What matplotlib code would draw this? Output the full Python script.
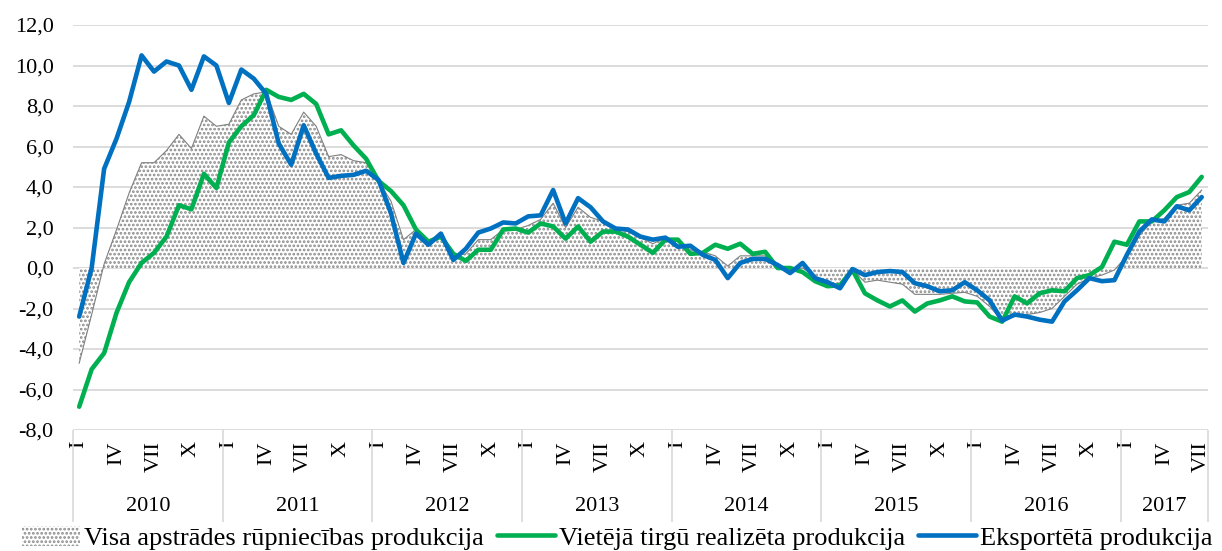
import numpy as np
import matplotlib
matplotlib.use("Agg")
import matplotlib.pyplot as plt
import matplotlib.transforms as mtransforms

plt.rcParams["font.family"] = ["Liberation Serif", "DejaVu Serif"]
plt.rcParams["hatch.linewidth"] = 1.3

# dati: 2010. gada janvāris - 2017. gada jūlijs
years = [2010, 2011, 2012, 2013, 2014, 2015, 2016, 2017]
months_in_year = [12, 12, 12, 12, 12, 12, 12, 7]
month_labels = ["I", "", "", "IV", "", "", "VII", "", "", "X", "", ""]

visa = [
    -4.7, -2.3, 0.2, 1.9, 3.7, 5.2, 5.2, 5.8, 6.6, 5.9, 7.5, 7.0,
    7.1, 8.3, 8.6, 8.7, 7.0, 6.6, 7.7, 7.0, 5.5, 5.6, 5.3, 5.2,
    4.3, 3.3, 1.4, 1.9, 1.2, 1.5, 0.6, 0.7, 1.4, 1.4, 1.9, 1.9,
    2.1, 2.4, 3.2, 2.0, 3.0, 2.5, 2.3, 1.9, 1.8, 1.5, 1.2, 1.5,
    1.3, 0.9, 0.8, 0.6, 0.1, 0.6, 0.6, 0.6, 0.2, -0.1, 0.0, -0.4,
    -0.8, -0.9, -0.1, -0.7, -0.6, -0.7, -0.8, -1.3, -1.3, -1.3, -1.25, -1.2,
    -1.4, -1.9, -2.6, -2.4, -2.3, -2.2, -2.0, -1.4, -0.8, -0.5, -0.35, -0.1,
    0.6, 1.6, 2.3, 2.45, 3.1, 3.2, 3.85,
]
vietejais = [
    -6.85, -5.0, -4.2, -2.2, -0.7, 0.25, 0.75, 1.55, 3.1, 2.9, 4.65, 3.95,
    6.2, 7.0, 7.55, 8.8, 8.45, 8.3, 8.6, 8.1, 6.6, 6.8, 6.05, 5.4,
    4.3, 3.8, 3.1, 1.9, 1.3, 1.55, 0.7, 0.35, 0.9, 0.9, 1.9, 1.95,
    1.75, 2.2, 2.05, 1.45, 2.05, 1.3, 1.8, 1.8, 1.55, 1.15, 0.75, 1.4,
    1.4, 0.7, 0.75, 1.15, 0.95, 1.2, 0.7, 0.8, 0.0, 0.0, -0.2, -0.65,
    -0.9, -0.85, -0.1, -1.25, -1.6, -1.9, -1.6, -2.15, -1.75, -1.6, -1.4, -1.65,
    -1.7, -2.4, -2.65, -1.4, -1.75, -1.25, -1.1, -1.15, -0.5, -0.35, 0.05, 1.3,
    1.15, 2.3, 2.3, 2.85, 3.5, 3.75, 4.5,
]
eksports = [
    -2.4, 0.0, 4.9, 6.4, 8.2, 10.5, 9.7, 10.2, 10.0, 8.8, 10.45, 10.0,
    8.15, 9.8, 9.35, 8.6, 6.15, 5.1, 7.05, 5.65, 4.45, 4.55, 4.6, 4.8,
    4.35, 2.7, 0.25, 1.7, 1.15, 1.7, 0.4, 0.95, 1.75, 1.95, 2.25, 2.2,
    2.55, 2.6, 3.85, 2.2, 3.45, 3.0, 2.3, 1.95, 1.9, 1.55, 1.4, 1.5,
    1.05, 1.1, 0.65, 0.4, -0.5, 0.25, 0.45, 0.45, 0.15, -0.25, 0.25, -0.5,
    -0.7, -1.0, -0.05, -0.35, -0.2, -0.15, -0.2, -0.75, -0.9, -1.15, -1.1, -0.7,
    -1.1, -1.6, -2.6, -2.3, -2.4, -2.55, -2.65, -1.65, -1.1, -0.5, -0.65, -0.6,
    0.65, 1.8, 2.4, 2.3, 3.05, 2.85, 3.5,
]

x = np.arange(len(visa))

fig = plt.figure(figsize=(12.22, 5.51), dpi=100)
ax = fig.add_axes([0.0597, 0.2196, 0.9288, 0.735])

# laukums ar punktotu rakstu
ax.fill_between(x, visa, 0, facecolor="white", edgecolor="#8a8a8a",
                hatch="....", linewidth=0, zorder=2,
                label="Visa apstrādes rūpniecības produkcija")
ax.plot(x, visa, color="#808080", linewidth=0.8, zorder=3)
ax.plot(x, vietejais, color="#00B050", linewidth=3.3, zorder=4,
        solid_joinstyle="round", solid_capstyle="round",
        label="Vietējā tirgū realizēta produkcija")
ax.plot(x, eksports, color="#0070C0", linewidth=3.3, zorder=5,
        solid_joinstyle="round", solid_capstyle="round",
        label="Eksportētā produkcija")

ax.set_xlim(-0.5, len(visa) - 0.5)
ax.set_ylim(-8, 12)
ax.set_yticks(np.arange(-8, 13, 2))
ax.set_yticklabels([f"{v:.1f}".replace(".", ",") for v in np.arange(-8, 13, 2)])
ax.yaxis.grid(True, color="#d9d9d9", linewidth=1.3, zorder=0)
ax.set_axisbelow(True)
for s in ax.spines.values():
    s.set_visible(False)

# mēnešu un gadu iedaļas
ticks, labels, starts = [], [], []
pos = 0
for n in months_in_year:
    starts.append(pos)
    for m in range(n):
        if month_labels[m]:
            ticks.append(pos + m)
            labels.append(month_labels[m])
    pos += n
ax.set_xticks(ticks)
ax.set_xticklabels(labels, rotation=90)
ax.set_xticks([s - 0.5 for s in starts] + [pos - 0.5], minor=True)
ax.tick_params(axis="x", which="major", length=0, pad=8, labelsize=16)
ax.tick_params(axis="x", which="minor", length=66, width=1.2, color="#d9d9d9")
ax.tick_params(axis="y", length=0, pad=14, labelsize=16)

trans = mtransforms.blended_transform_factory(ax.transData, ax.transAxes)
for y, s, n in zip(years, starts, months_in_year):
    ax.text(s + (n - 1) / 2, -0.19, str(y), transform=trans,
            ha="center", va="center", fontsize=16)

fig.legend(loc="center", bbox_to_anchor=(0.505, 0.024), ncol=3, frameon=False,
           fontsize=19, handlelength=2.2, handleheight=0.8, handletextpad=0.15,
           columnspacing=0.5, borderaxespad=0)

fig.savefig("out.png", dpi=100)
